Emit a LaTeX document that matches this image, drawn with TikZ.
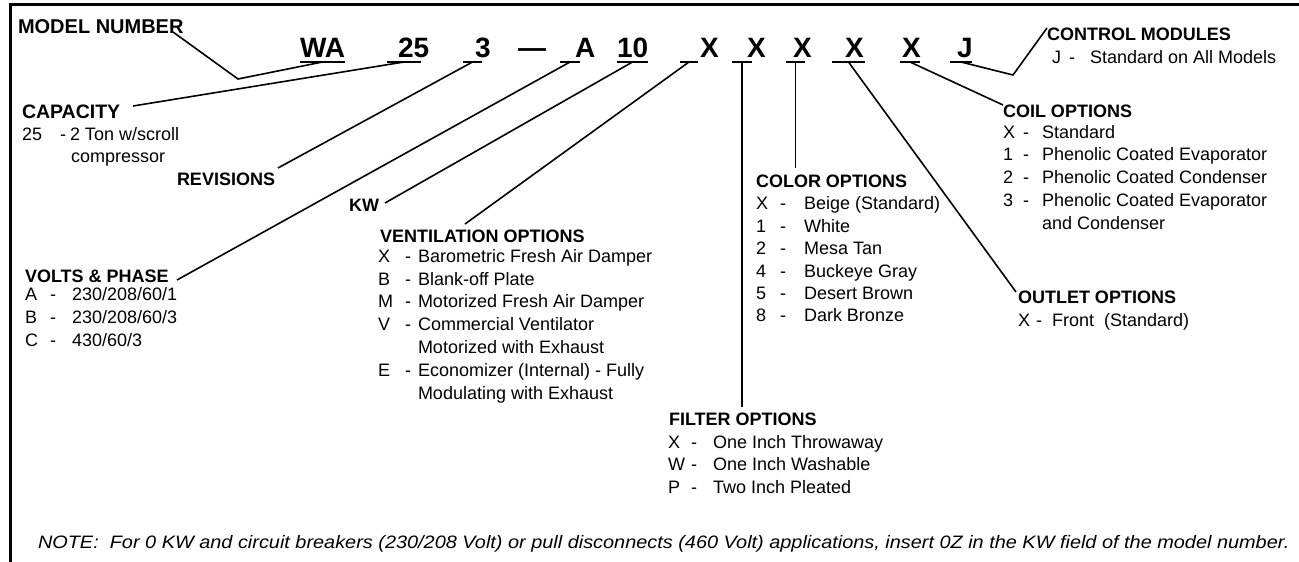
\documentclass[tikz,border=0pt]{standalone}
\usepackage{fontspec}
\setmainfont{Liberation Sans}
\usetikzlibrary{calc}
\begin{document}
\begin{tikzpicture}[x=1pt,y=-1pt,
    every node/.style={inner sep=0pt,outer sep=0pt,anchor=base west},
    head/.style={font=\fontsize{18}{22}\selectfont\bfseries},
    opt/.style={font=\fontsize{18}{22}\selectfont},
    code/.style={font=\fontsize{28}{30}\selectfont\bfseries},
    note/.style={font=\fontsize{18}{20}\selectfont\itshape},
    uline/.style={line width=2.2pt},
    lead/.style={line width=1.6pt},
    frame/.style={line width=3pt}]
    \useasboundingbox (0,0) rectangle (1299,562);
    \draw[frame] (10,562) -- (10,4) -- (1299,4);

    % model number code, one node per field, underline below
    \foreach \n/\t/\gx/\ul/\ur in {wa/WA/300/300/345, cap/25/398/387/421,
        rev/3/475/463/482, volt/A/575/560/580, kw/10/617/617/648,
        vent/X/700/680/698, filt/X/747/732/752, colr/X/793/786/805,
        outl/X/845/832/865, coil/X/902/900/920, ctrl/J/957/950/972}{
        \node[code] (\n) at (\gx,57) {\t};
        \draw[uline] (\ul,62) -- coordinate (\n-u) (\ur,62);
    }
    \node[code] (dash) at (518,57) {—};

    % labels
    \node[head,font=\fontsize{20}{22}\selectfont\bfseries] (model) at (18,33) {MODEL NUMBER};
    \node[head,font=\fontsize{19.5}{22}\selectfont\bfseries] (capacity) at (22,118) {CAPACITY};
    \node[opt] (cap1) at (22,140) {25};
    \node[opt] (cap2) at (60,140) {-};
    \node[opt] (cap3) at (70,140) {2 Ton w/scroll};
    \node[opt] (cap4) at (71,162) {compressor};
    \node[head] (revisions) at (177,185) {REVISIONS};
    \node[head] (kwlabel) at (349,211) {KW};

    \node[head] (volts) at (25,282) {VOLTS \& PHASE};
    \foreach \k/\v/\y [count=\i] in {A/{230/208/60/1}/300, B/{230/208/60/3}/323,
        C/{430/60/3}/346}{
        \node[opt] (voltk\i) at (25,\y) {\k};
        \node[opt] (voltd\i) at (50,\y) {-};
        \node[opt] (voltv\i) at (72,\y) {\v};
    }

    \node[head] (ventilation) at (380,242) {VENTILATION OPTIONS};
    \foreach \k/\v/\y [count=\i] in {X/Barometric Fresh Air Damper/262,
        B/Blank-off Plate/285, M/Motorized Fresh Air Damper/307,
        V/Commercial Ventilator/330, E/Economizer (Internal) - Fully/376}{
        \node[opt] (ventk\i) at (378,\y) {\k};
        \node[opt] (ventd\i) at (405,\y) {-};
        \node[opt] (ventv\i) at (418,\y) {\v};
    }
    \node[opt] (vent6) at (418,353) {Motorized with Exhaust};
    \node[opt] (vent7) at (418,399) {Modulating with Exhaust};

    \node[head] (color) at (756,187) {COLOR OPTIONS};
    \foreach \k/\v/\y [count=\i] in {X/Beige (Standard)/209, 1/White/232,
        2/Mesa Tan/254, 4/Buckeye Gray/277, 5/Desert Brown/299, 8/Dark Bronze/321}{
        \node[opt] (colk\i) at (756,\y) {\k};
        \node[opt] (cold\i) at (780,\y) {-};
        \node[opt] (colv\i) at (804,\y) {\v};
    }

    \node[head] (filter) at (669,425) {FILTER OPTIONS};
    \foreach \k/\v/\y [count=\i] in {X/One Inch Throwaway/448,
        W/One Inch Washable/470, P/Two Inch Pleated/493}{
        \node[opt] (filk\i) at (668,\y) {\k};
        \node[opt] (fild\i) at (691,\y) {-};
        \node[opt] (filv\i) at (713,\y) {\v};
    }

    \node[head] (outlet) at (1018,303) {OUTLET OPTIONS};
    \node[opt] (outk) at (1018,326) {X};
    \node[opt] (outd) at (1036,326) {-};
    \node[opt] (outv) at (1052,326) {Front\ \ (Standard)};

    \node[head] (coilopt) at (1003,117) {COIL OPTIONS};
    \foreach \k/\v/\y [count=\i] in {X/Standard/138, 1/Phenolic Coated Evaporator/160,
        2/Phenolic Coated Condenser/183, 3/Phenolic Coated Evaporator/206}{
        \node[opt] (coilk\i) at (1003,\y) {\k};
        \node[opt] (coild\i) at (1023,\y) {-};
        \node[opt] (coilv\i) at (1042,\y) {\v};
    }
    \node[opt] (coil5) at (1042,229) {and Condenser};

    \node[head] (control) at (1047,40) {CONTROL MODULES};
    \node[opt] (ctrlk) at (1052,63) {J};
    \node[opt] (ctrld) at (1069,63) {-};
    \node[opt] (ctrlv) at (1090,63) {Standard on All Models};

    \node[note] (notetext) at (38,548) {\scalebox{1.105}[1]{NOTE:\ \ For 0 KW and circuit breakers (230/208 Volt) or pull disconnects (460 Volt) applications, insert 0Z in the KW field of the model number.}};

    % leader ends
    \coordinate (model-tip) at (173,32);
    \coordinate (model-bend) at (238,79);
    \coordinate (cap-tip) at (133,106);
    \coordinate (rev-tip) at (278,168);
    \coordinate (volt-tip) at (177,280);
    \coordinate (kw-tip) at (385,203);
    \coordinate (vent-tip) at (465,224);
    \coordinate (filt-tip) at (742,407);
    \coordinate (colr-tip) at (795,168);
    \coordinate (outl-tip) at (1016,292);
    \coordinate (coil-tip) at (1003,105);
    \coordinate (ctrl-bend) at (1013,75);
    \coordinate (ctrl-tip) at (1047,28);

    \draw[lead] (model-tip) -- (model-bend) -- (wa-u);
    \draw[lead] (cap-tip) -- (cap-u);
    \draw[lead] (rev-tip) -- (rev-u);
    \draw[lead] (volt-tip) -- (volt-u);
    \draw[lead] (kw-tip) -- (kw-u);
    \draw[lead] (vent-tip) -- (vent-u);
    \draw[lead] (filt-u) -- (filt-u |- filt-tip);
    \draw[lead] (colr-u) -- (colr-u |- colr-tip);
    \draw[lead] (outl-u) -- (outl-tip);
    \draw[lead] (coil-u) -- (coil-tip);
    \draw[lead] (ctrl-u) -- (ctrl-bend) -- (ctrl-tip);
\end{tikzpicture}
\end{document}
